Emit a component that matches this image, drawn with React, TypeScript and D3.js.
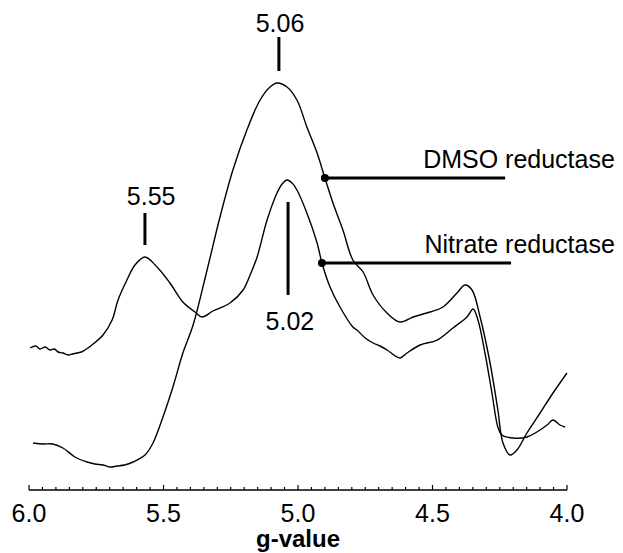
import React from "react";
import * as d3 from "d3";

// g-value axis
const xTickValues = [6.0, 5.5, 5.0, 4.5, 4.0];
const xTickLabels = ["6.0", "5.5", "5.0", "4.5", "4.0"];
const xAxisTitle = "g-value";

// Nitrate reductase spectrum (g, intensity a.u.)
const nitrateG = [5.996, 5.975, 5.959, 5.94, 5.922, 5.905, 5.892, 5.874, 5.855, 5.838, 5.822, 5.805, 5.792, 5.766, 5.725, 5.691, 5.669, 5.636, 5.606, 5.569, 5.524, 5.476, 5.428, 5.383, 5.357, 5.316, 5.253, 5.204, 5.178, 5.152, 5.115, 5.078, 5.059, 5.041, 5.022, 5.004, 4.967, 4.929, 4.911, 4.881, 4.844, 4.796, 4.781, 4.75, 4.721, 4.695, 4.669, 4.621, 4.595, 4.546, 4.483, 4.424, 4.372, 4.349, 4.331, 4.305, 4.279, 4.257, 4.242, 4.201, 4.149, 4.112, 4.074, 4.052, 4.026, 4.007];
const nitrateV = [142, 144, 141, 143, 140, 141, 138, 137, 135, 136, 137, 138, 140, 145, 155, 170, 190, 210, 225, 233, 223, 207, 188, 178, 173, 179, 187, 200, 215, 233, 270, 297, 306, 310, 307, 300, 277, 247, 227, 203, 183, 163, 160, 152, 147, 144, 140, 132, 137, 145, 150, 162, 173, 181, 170, 137, 97, 63, 55, 52, 53, 58, 65, 70, 65, 63];

// DMSO reductase spectrum (g, intensity a.u.)
const dmsoG = [5.985, 5.948, 5.911, 5.874, 5.829, 5.784, 5.755, 5.725, 5.7, 5.673, 5.645, 5.613, 5.569, 5.539, 5.502, 5.465, 5.428, 5.39, 5.338, 5.29, 5.242, 5.19, 5.141, 5.104, 5.078, 5.041, 5.004, 4.967, 4.929, 4.9, 4.87, 4.833, 4.796, 4.758, 4.721, 4.669, 4.621, 4.572, 4.509, 4.461, 4.409, 4.379, 4.353, 4.323, 4.286, 4.257, 4.238, 4.212, 4.186, 4.149, 4.1, 4.052, 4.0];
const dmsoV = [47, 46, 46, 42, 33, 28, 26, 25, 23, 24, 25, 28, 35, 47, 73, 103, 137, 165, 220, 273, 320, 360, 390, 403, 407, 403, 390, 363, 337, 312, 287, 260, 230, 218, 195, 177, 168, 173, 178, 183, 197, 205, 200, 173, 127, 80, 47, 35, 40, 57, 77, 97, 117];

// Peak annotations
const peakLabels = ["5.06", "5.55", "5.02"];
const peakG = [5.071, 5.569, 5.037];
const peakLabelG = [5.067, 5.546, 5.03];
const peakLineTop = [453, 277, 288];
const peakLineBottom = [419, 245, 195];
const peakLabelV = [458, 285, 160];

// Series labels
const seriesNames = ["DMSO reductase", "Nitrate reductase"];
const seriesDotG = [4.9, 4.911];
const seriesDotV = [312, 227];
const seriesLineEndG = [4.23, 4.208];
const seriesTextEndG = [3.822, 3.822];
const seriesTextV = [322, 237];

const W = 623;
const H = 553;
const FONT = "'Liberation Sans', Arial, Helvetica, sans-serif";

export default function App() {
  const x = d3.scaleLinear().domain([6.0, 4.0]).range([29, 567]);
  const y = d3.scaleLinear().domain([0, 450]).range([490, 40]);

  const line = d3
    .line<[number, number]>()
    .x((d) => x(d[0]))
    .y((d) => y(d[1]))
    .curve(d3.curveCatmullRom.alpha(0.5));

  const nitrate: [number, number][] = nitrateG.map((g, i) => [g, nitrateV[i]]);
  const dmso: [number, number][] = dmsoG.map((g, i) => [g, dmsoV[i]]);

  const minorTicks = d3.range(0, 41).map((i) => 6.0 - i * 0.05);
  const axisY = y(0);

  return (
    <svg
      width={W}
      height={H}
      style={{ position: "absolute", left: 0, top: 0, background: "#fff" }}
      fontFamily={FONT}
    >
      <rect x={0} y={0} width={W} height={H} fill="#fff" />
      {/* spectra */}
      <path d={line(dmso) || ""} fill="none" stroke="#000" strokeWidth={1.4} strokeLinejoin="round" />
      <path d={line(nitrate) || ""} fill="none" stroke="#000" strokeWidth={1.4} strokeLinejoin="round" />

      {/* peak annotations */}
      {peakLabels.map((lab, i) => (
        <g key={lab}>
          <line
            x1={x(peakG[i])}
            x2={x(peakG[i])}
            y1={y(peakLineTop[i])}
            y2={y(peakLineBottom[i])}
            stroke="#000"
            strokeWidth={3}
          />
          <text x={x(peakLabelG[i])} y={y(peakLabelV[i])} textAnchor="middle" fontSize={25} fill="#000">
            {lab}
          </text>
        </g>
      ))}

      {/* series labels */}
      {seriesNames.map((name, i) => (
        <g key={name}>
          <line
            x1={x(seriesDotG[i])}
            x2={x(seriesLineEndG[i])}
            y1={y(seriesDotV[i])}
            y2={y(seriesDotV[i])}
            stroke="#000"
            strokeWidth={3}
          />
          <circle cx={x(seriesDotG[i])} cy={y(seriesDotV[i])} r={4} fill="#000" />
          <text x={x(seriesTextEndG[i])} y={y(seriesTextV[i])} textAnchor="end" fontSize={25} fill="#000">
            {name}
          </text>
        </g>
      ))}

      {/* x axis */}
      <line x1={x(6.0)} x2={x(4.0)} y1={axisY} y2={axisY} stroke="#000" strokeWidth={1.5} />
      {minorTicks.map((t, i) => (
        <line
          key={i}
          x1={x(t)}
          x2={x(t)}
          y1={axisY}
          y2={axisY - (i % 10 === 0 ? 5 : 3)}
          stroke="#000"
          strokeWidth={1.2}
        />
      ))}
      {xTickValues.map((t, i) => (
        <text key={t} x={x(t)} y={522} textAnchor="middle" fontSize={25} fill="#000">
          {xTickLabels[i]}
        </text>
      ))}
      <text x={(x(6.0) + x(4.0)) / 2} y={547} textAnchor="middle" fontSize={24} fontWeight="bold" fill="#000">
        {xAxisTitle}
      </text>
    </svg>
  );
}
